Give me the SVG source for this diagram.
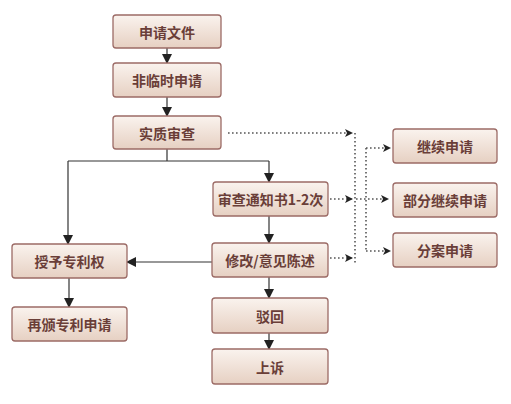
<svg xmlns="http://www.w3.org/2000/svg" width="511" height="404" viewBox="0 0 511 404">
<defs>
<linearGradient id="g" x1="0" y1="0" x2="0" y2="1">
<stop offset="0" stop-color="#faf3ee"/>
<stop offset="1" stop-color="#e6d0c2"/>
</linearGradient>
<marker id="a" markerWidth="10" markerHeight="10" refX="9" refY="5" orient="auto" markerUnits="userSpaceOnUse">
<path d="M0,0 L10,5 L0,10 Z" fill="#222"/>
</marker>
<marker id="d" markerWidth="8" markerHeight="8" refX="7" refY="4" orient="auto" markerUnits="userSpaceOnUse">
<path d="M0,0 L8,4 L0,8 L2,4 Z" fill="#222"/>
</marker>
<style>
.n rect{fill:url(#g);stroke:#9c6b66;stroke-width:1.3}
.n text{font-family:"Noto Sans CJK SC","Noto Sans",sans-serif;font-size:14px;font-weight:bold;fill:#6a3e38;text-anchor:middle;dominant-baseline:central}
.s{fill:none;stroke:#333;stroke-width:1.2}
.t{fill:none;stroke:#555;stroke-width:1.6;stroke-dasharray:1.6 2.4}
</style>
</defs>
<rect width="511" height="404" fill="#fff"/>
<g id="connectors">
<path class="s" d="M167,48 V63" marker-end="url(#a)"/>
<path class="s" d="M167,97 V116" marker-end="url(#a)"/>
<path class="s" d="M167,149 V161 M68,161 H269"/>
<path class="s" d="M68,161 V244" marker-end="url(#a)"/>
<path class="s" d="M269,161 V182" marker-end="url(#a)"/>
<path class="s" d="M269,216 V243" marker-end="url(#a)"/>
<path class="s" d="M212,262 H127" marker-end="url(#a)"/>
<path class="s" d="M269,277 V298" marker-end="url(#a)"/>
<path class="s" d="M269,333 V349" marker-end="url(#a)"/>
<path class="s" d="M69,278 V307" marker-end="url(#a)"/>
<path class="t" d="M228,133 H352" marker-end="url(#d)"/>
<path class="t" d="M330,199 H352" marker-end="url(#d)"/>
<path class="t" d="M330,258 H352" marker-end="url(#d)"/>
<path class="t" d="M355,133 V264"/>
<path class="t" d="M366,148 V251"/>
<path class="t" d="M366,148 H390" marker-end="url(#d)"/>
<path class="t" d="M356,199 H388" marker-end="url(#d)"/>
<path class="t" d="M366,251 H390" marker-end="url(#d)"/>
</g>
<g id="n1" class="n"><rect x="113" y="15" width="108" height="33" rx="3"/><text x="167" y="31.5">申请文件</text></g>
<g id="n2" class="n"><rect x="113" y="63" width="108" height="34" rx="3"/><text x="167" y="80">非临时申请</text></g>
<g id="n3" class="n"><rect x="113" y="116" width="108" height="33" rx="3"/><text x="167" y="132.5">实质审查</text></g>
<g id="n4" class="n"><rect x="213" y="182" width="115" height="34" rx="3"/><text x="270.5" y="199">审查通知书1-2次</text></g>
<g id="n5" class="n"><rect x="212" y="243" width="116" height="34" rx="3"/><text x="270" y="260">修改/意见陈述</text></g>
<g id="n6" class="n"><rect x="212" y="298" width="116" height="35" rx="3"/><text x="270" y="315.5">驳回</text></g>
<g id="n7" class="n"><rect x="212" y="349" width="116" height="35" rx="3"/><text x="270" y="366.5">上诉</text></g>
<g id="n8" class="n"><rect x="12" y="244" width="115" height="34" rx="3"/><text x="69.5" y="261">授予专利权</text></g>
<g id="n9" class="n"><rect x="12" y="307" width="115" height="34" rx="3"/><text x="69.5" y="324">再颁专利申请</text></g>
<g id="n10" class="n"><rect x="393" y="129" width="104" height="34" rx="3"/><text x="445" y="146">继续申请</text></g>
<g id="n11" class="n"><rect x="393" y="183" width="104" height="34" rx="3"/><text x="445" y="200">部分继续申请</text></g>
<g id="n12" class="n"><rect x="393" y="233" width="104" height="34" rx="3"/><text x="445" y="250">分案申请</text></g>
</svg>
